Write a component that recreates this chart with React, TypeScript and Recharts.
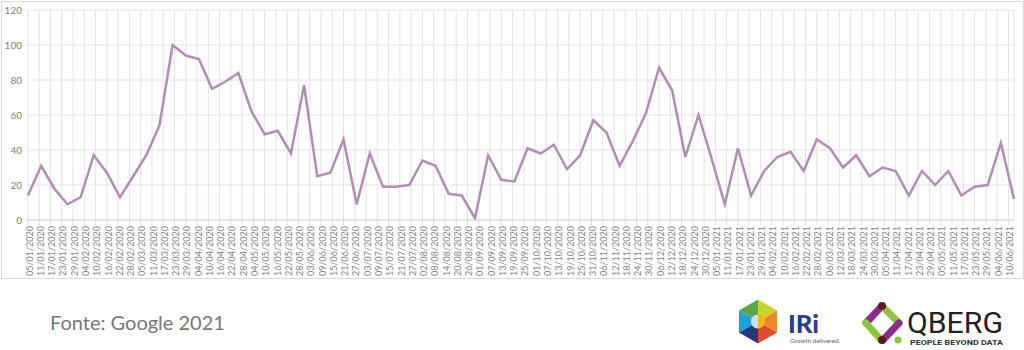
import React from "react";
import { LineChart, Line, XAxis, YAxis, CartesianGrid } from "recharts";

// Weekly dates (Google Trends weeks) and interest values
const weekDates = [
  "05/01/2020","12/01/2020","19/01/2020","26/01/2020","02/02/2020","09/02/2020","16/02/2020","23/02/2020",
  "01/03/2020","08/03/2020","15/03/2020","22/03/2020","29/03/2020","05/04/2020","12/04/2020","19/04/2020",
  "26/04/2020","03/05/2020","10/05/2020","17/05/2020","24/05/2020","31/05/2020","07/06/2020","14/06/2020",
  "21/06/2020","28/06/2020","05/07/2020","12/07/2020","19/07/2020","26/07/2020","02/08/2020","09/08/2020",
  "16/08/2020","23/08/2020","30/08/2020","06/09/2020","13/09/2020","20/09/2020","27/09/2020","04/10/2020",
  "11/10/2020","18/10/2020","25/10/2020","01/11/2020","08/11/2020","15/11/2020","22/11/2020","29/11/2020",
  "06/12/2020","13/12/2020","20/12/2020","27/12/2020","03/01/2021","10/01/2021","17/01/2021","24/01/2021",
  "31/01/2021","07/02/2021","14/02/2021","21/02/2021","28/02/2021","07/03/2021","14/03/2021","21/03/2021",
  "28/03/2021","04/04/2021","11/04/2021","18/04/2021","25/04/2021","02/05/2021","09/05/2021","16/05/2021",
  "23/05/2021","30/05/2021","06/06/2021","13/06/2021",
];

const interest = [
  14, 31, 18, 9, 13, 37, 27, 13, 25, 37,
  54, 100, 94, 92, 75, 79, 84, 62, 49, 51,
  38, 77, 25, 27, 46, 9, 38, 19, 19, 20,
  34, 31, 15, 14, 1, 37, 23, 22, 41, 38,
  43, 29, 37, 57, 50, 31, 45, 61, 87, 74,
  36, 60, 35, 9, 41, 14, 28, 36, 39, 28,
  46, 41, 30, 37, 25, 30, 28, 14, 28, 20,
  28, 14, 19, 20, 44, 12,
];

const tickLabels = [
  "05/01/2020","11/01/2020","17/01/2020","23/01/2020","29/01/2020","04/02/2020","10/02/2020","16/02/2020",
  "22/02/2020","28/02/2020","05/03/2020","11/03/2020","17/03/2020","23/03/2020","29/03/2020","04/04/2020",
  "10/04/2020","16/04/2020","22/04/2020","28/04/2020","04/05/2020","10/05/2020","16/05/2020","22/05/2020",
  "28/05/2020","03/06/2020","09/06/2020","15/06/2020","21/06/2020","27/06/2020","03/07/2020","09/07/2020",
  "15/07/2020","21/07/2020","27/07/2020","02/08/2020","08/08/2020","14/08/2020","20/08/2020","26/08/2020",
  "01/09/2020","07/09/2020","13/09/2020","19/09/2020","25/09/2020","01/10/2020","07/10/2020","13/10/2020",
  "19/10/2020","25/10/2020","31/10/2020","06/11/2020","12/11/2020","18/11/2020","24/11/2020","30/11/2020",
  "06/12/2020","12/12/2020","18/12/2020","24/12/2020","30/12/2020","05/01/2021","11/01/2021","17/01/2021",
  "23/01/2021","29/01/2021","04/02/2021","10/02/2021","16/02/2021","22/02/2021","28/02/2021","06/03/2021",
  "12/03/2021","18/03/2021","24/03/2021","30/03/2021","05/04/2021","11/04/2021","17/04/2021","23/04/2021",
  "29/04/2021","05/05/2021","11/05/2021","17/05/2021","23/05/2021","29/05/2021","04/06/2021","10/06/2021",
];

const yTicks = [0, 20, 40, 60, 80, 100, 120];

const dayNum = (s: string) => {
  const [d, m, y] = s.split("/").map(Number);
  return Math.round(Date.UTC(y, m - 1, d) / 86400000);
};
const origin = dayNum(tickLabels[0]);
const data = weekDates.map((d, i) => ({ t: dayNum(d) - origin, v: interest[i] }));
const tickOffsets = tickLabels.map((d) => dayNum(d) - origin);
const labelByOffset: Record<number, string> = {};
tickOffsets.forEach((o, i) => (labelByOffset[o] = tickLabels[i]));

const FONT = "Lato, 'Open Sans', sans-serif";

const XTick = (props: any) => {
  const { x, y, payload } = props;
  return (
    <text
      transform={`translate(${x + 1.5},${y}) rotate(-90)`}
      textAnchor="end"
      dy="0.35em"
      fontSize={9}
      fontFamily={FONT}
      fill="#7f7f7f"
    >
      {labelByOffset[payload.value]}
    </text>
  );
};

const hexC = { x: 758, y: 321.5 };
const hexR = 22;
const hexColors = ["#58a847", "#c9d52f", "#ec8a2b", "#e14b2b", "#243a7e", "#1e9fe0"];
const hexPt = (k: number) => {
  const a = ((-90 + 60 * k) * Math.PI) / 180;
  return [hexC.x + hexR * Math.cos(a), hexC.y + hexR * Math.sin(a)];
};

export default function App() {
  return (
    <div
      style={{
        position: "absolute",
        left: 0,
        top: 0,
        width: 1024,
        height: 350,
        background: "#fff",
        fontFamily: FONT,
      }}
    >
      <div
        style={{
          position: "absolute",
          left: 1,
          top: 1,
          width: 1021,
          height: 276,
          border: "1px solid #d9d9d9",
        }}
      />
      <div style={{ position: "absolute", left: 0, top: 0 }}>
        <LineChart
          width={1024}
          height={278}
          data={data}
          margin={{ top: 10, right: 10, bottom: 0, left: 0 }}
        >
          <CartesianGrid stroke="#e3e3e3" strokeWidth={1} />
          <XAxis
            dataKey="t"
            type="number"
            domain={[0, "dataMax"]}
            ticks={tickOffsets}
            interval={0}
            height={58}
            tick={<XTick />}
            tickSize={5}
            tickMargin={1}
            axisLine={{ stroke: "#d9d9d9" }}
            tickLine={{ stroke: "#d9d9d9" }}
          />
          <YAxis
            domain={[0, 120]}
            ticks={yTicks}
            width={28}
            axisLine={false}
            tickLine={false}
            tickSize={4}
            tickMargin={2}
            tick={{ fontSize: 10, fill: "#7f7f7f", fontFamily: FONT }}
          />
          <Line
            type="linear"
            dataKey="v"
            stroke="#b48cb7"
            strokeWidth={2.5}
            dot={false}
            activeDot={false}
            isAnimationActive={false}
          />
        </LineChart>
      </div>
      <svg
        width={1024}
        height={350}
        style={{ position: "absolute", left: 0, top: 0, pointerEvents: "none" }}
      >
        <text x={50} y={330} fontSize={20} fill="#777" fontFamily={FONT}>
          Fonte: Google 2021
        </text>
        {/* IRi logo */}
        {hexColors.map((c, k) => {
          const p1 = hexPt(k + 5);
          const p2 = hexPt(k + 6);
          return (
            <polygon
              key={k}
              points={`${hexC.x},${hexC.y} ${p1[0]},${p1[1]} ${p2[0]},${p2[1]}`}
              fill={c}
            />
          );
        })}
        <circle cx={hexC.x} cy={hexC.y} r={7} fill="#f6b51c" />
        <path
          d={`M ${hexC.x} ${hexC.y - 7} A 7 7 0 0 0 ${hexC.x} ${hexC.y + 7} Z`}
          fill="#bfe2f4"
        />
        <text x={788} y={333} fontSize={24} fontWeight={900} fill="#2c3d8f" fontFamily={FONT} textLength={31} lengthAdjust="spacingAndGlyphs">
          IRi
        </text>
        <text x={790} y={343} fontSize={6} fill="#666" fontFamily={FONT} textLength={50} lengthAdjust="spacingAndGlyphs">
          Growth delivered.
        </text>
        {/* QBERG logo */}
        <line x1={866} y1={323} x2={881} y2={307} stroke="#8e2b8f" strokeWidth={7} strokeLinecap="round" />
        <line x1={883} y1={307} x2={899} y2={323} stroke="#8cc63f" strokeWidth={7} strokeLinecap="round" />
        <line x1={866} y1={323} x2={881} y2={340} stroke="#8cc63f" strokeWidth={7} strokeLinecap="round" />
        <line x1={883} y1={340} x2={899} y2={323} stroke="#8e2b8f" strokeWidth={7} strokeLinecap="round" />
        <circle cx={882} cy={306} r={4} fill="#5b1b1f" />
        <circle cx={882} cy={340} r={4} fill="#5b1b1f" />
        <circle cx={898} cy={340} r={3.5} fill="#8cc63f" />
        <text x={907} y={333} fontSize={29} fill="#222" fontFamily="Roboto, sans-serif" textLength={96} lengthAdjust="spacingAndGlyphs">
          QBERG
        </text>
        <text x={910} y={345} fontSize={7.5} fontWeight={700} fill="#333" fontFamily="Roboto, sans-serif" textLength={93} lengthAdjust="spacingAndGlyphs">
          PEOPLE BEYOND DATA
        </text>
      </svg>
    </div>
  );
}
